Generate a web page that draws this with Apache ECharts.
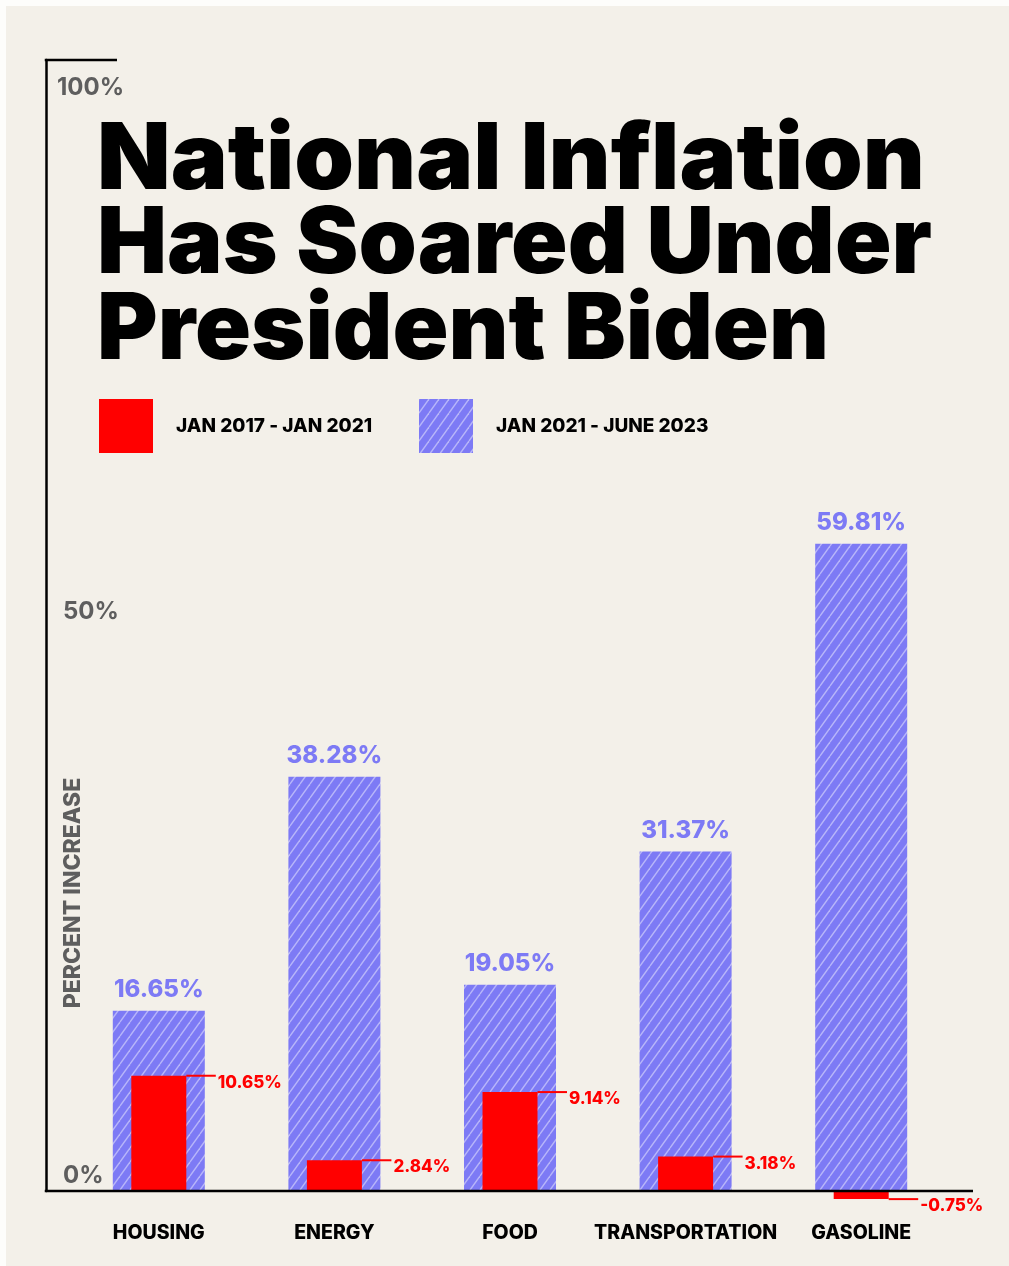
<!DOCTYPE html>
<html><head><meta charset="utf-8">
<script src="https://cdn.jsdelivr.net/npm/echarts@6/dist/echarts.min.js"></script>
<style>html,body{margin:0;padding:0;background:#fdfdfb}#c{width:1009px;height:1266px}</style>
</head><body><div id="c"></div>
<script>
// ---- data ----
const categories = ['HOUSING', 'ENERGY', 'FOOD', 'TRANSPORTATION', 'GASOLINE'];
const before = [10.65, 2.84, 9.14, 3.18, -0.75];      // Jan 2017 - Jan 2021
const after = [16.65, 38.28, 19.05, 31.37, 59.81];    // Jan 2021 - June 2023
const seriesNames = ['JAN 2017 - JAN 2021', 'JAN 2021 - JUNE 2023'];
const yTicks = [0, 50, 100];
const titleLines = ['National Inflation', 'Has Soared Under', 'President Biden'];
const yName = 'PERCENT INCREASE';

// ---- style ----
const FONT = 'Inter';
const PURPLE = '#7d7af5', RED = '#ff0000', GRAY = '#5e5e5e', BG = '#f3f0e9';

function hatch() {
  const w = 10, h = 14;
  const c = document.createElement('canvas');
  c.width = w; c.height = h;
  const ctx = c.getContext('2d');
  ctx.fillStyle = PURPLE; ctx.fillRect(0, 0, w, h);
  ctx.strokeStyle = 'rgba(255,255,255,0.45)'; ctx.lineWidth = 1.4;
  for (const k of [-1, 0, 1]) {
    ctx.beginPath(); ctx.moveTo(k * w, h); ctx.lineTo(k * w + w, 0); ctx.stroke();
  }
  return c;
}
const pattern = { image: hatch(), repeat: 'repeat' };

const mctx = document.createElement('canvas').getContext('2d');
function fitScale(text, font, target) { mctx.font = font; return target / mctx.measureText(text).width; }

const titleFont = '900 92px ' + FONT;
const titleWidths = [828, 835, 732];
const titleY = [161.5, 245, 331];
const titleEls = titleLines.map((t, i) => ({
  type: 'text', x: 97, y: titleY[i], z: 50,
  scaleX: fitScale(t, titleFont, titleWidths[i]),
  style: { text: t, font: titleFont, fill: '#000', textAlign: 'left', textVerticalAlign: 'middle' }
}));

const yShift = { 0: [0, 0, 30, 6], 50: [0, 0, 76, 6], 100: [0, 0, 41, 0] };
const yRich = {};
yTicks.forEach(v => {
  yRich['t' + v] = { fontFamily: FONT, fontSize: 24, fontWeight: 700, color: GRAY, padding: yShift[v] };
});

const legendText = { fontFamily: FONT, fontSize: 19, fontWeight: 800, color: '#000', padding: [0, 0, 0, 18] };

const chart = echarts.init(document.getElementById('c'), null, { renderer: 'canvas' });
chart.setOption({
  backgroundColor: 'transparent',
  animation: false,
  grid: { left: 71, right: 60, top: 60, bottom: 75 },
  legend: [
    { data: [seriesNames[0]], left: 99, top: 399, padding: 0, itemWidth: 54, itemHeight: 54, icon: 'rect', textStyle: legendText },
    { data: [seriesNames[1]], left: 419, top: 399, padding: 0, itemWidth: 54, itemHeight: 54, icon: 'rect', textStyle: legendText }
  ],
  xAxis: [
    { type: 'category', data: categories, axisLine: { show: false }, axisTick: { show: false },
      axisLabel: { interval: 0, margin: 32, fontFamily: FONT, fontSize: 19.5, fontWeight: 800, color: '#000' } },
    { type: 'category', data: categories, show: false }
  ],
  yAxis: {
    type: 'value', min: 0, max: 104.5, interval: 50, offset: 25,
    splitLine: { show: false }, axisTick: { show: false },
    axisLine: { show: true, lineStyle: { color: '#000', width: 2.5 } },
    axisLabel: {
      inside: true, margin: 11,
      formatter: v => yTicks.includes(v) ? '{t' + v + '|' + v + '%}' : '',
      rich: yRich
    }
  },
  series: [
    { name: seriesNames[1], type: 'bar', xAxisIndex: 0, data: after, barWidth: 92,
      itemStyle: { color: pattern },
      label: { show: true, position: 'top', distance: 9, fontFamily: FONT, fontSize: 24, fontWeight: 800,
        color: PURPLE, formatter: p => p.value.toFixed(2) + '%' } },
    { name: seriesNames[0], type: 'bar', xAxisIndex: 1, data: before, barWidth: 55, clip: false,
      itemStyle: { color: RED }, z: 3 },
    { type: 'custom', xAxisIndex: 1, yAxisIndex: 0, z: 4, clip: false,
      data: before.map((v, i) => [i, v]),
      encode: { x: 0, y: 1 },
      renderItem: (params, api) => {
        const v = api.value(1);
        const p = api.coord([api.value(0), v]);
        return { type: 'group', children: [
          { type: 'line', shape: { x1: p[0] + 27.5, y1: p[1], x2: p[0] + 57, y2: p[1] },
            style: { stroke: RED, lineWidth: 2 } },
          { type: 'text', x: p[0] + 59, y: p[1] + 7,
            style: { text: v.toFixed(2) + '%', fill: RED, font: '800 17px ' + FONT,
              textAlign: 'left', textVerticalAlign: 'middle' } }
        ] };
      } }
  ],
  graphic: [
    { type: 'rect', shape: { x: 6, y: 6, width: 1003, height: 1260 }, style: { fill: BG }, z: -10, silent: true },
    { type: 'line', shape: { x1: 44.75, y1: 60, x2: 117, y2: 60 }, style: { stroke: '#000', lineWidth: 2.5 }, z: 100 },
    { type: 'line', shape: { x1: 44.75, y1: 1191, x2: 973, y2: 1191 }, style: { stroke: '#000', lineWidth: 2.5 }, z: 100 },
    { type: 'text', x: 73, y: 893, rotation: Math.PI / 2, z: 50,
      style: { text: yName, font: '800 23px ' + FONT, fill: GRAY, textAlign: 'center', textVerticalAlign: 'middle' } },
    ...titleEls
  ]
});
</script></body></html>
